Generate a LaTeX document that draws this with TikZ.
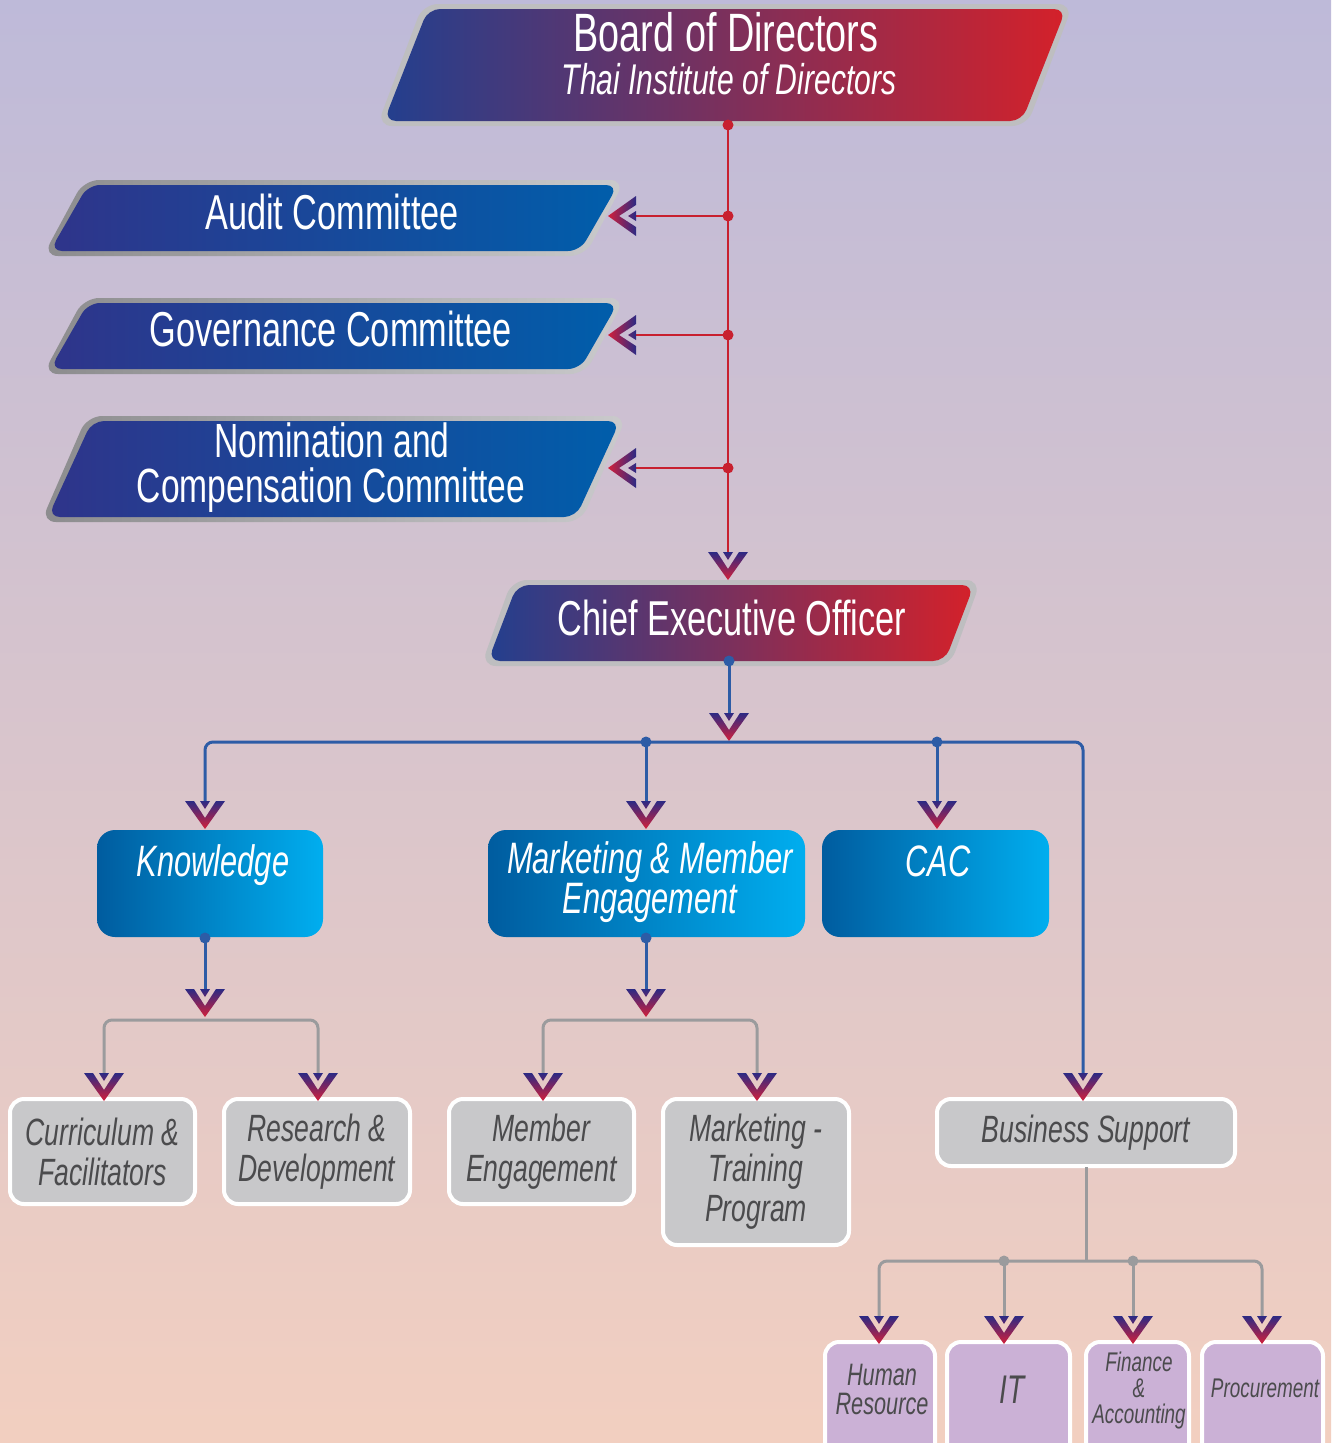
\documentclass[tikz,border=0pt]{standalone}
\usepackage{fontspec}
\setmainfont{Liberation Sans}[FakeStretch=0.7]
\definecolor{bgtop}{HTML}{BEBAD9}
\definecolor{bgbot}{HTML}{F2CFC0}
\definecolor{dblue}{HTML}{233F8E}
\definecolor{dmid}{HTML}{8B335C}
\definecolor{dred}{HTML}{D4212A}
\definecolor{cblueA}{HTML}{2F348A}
\definecolor{cblueB}{HTML}{005EAB}
\definecolor{bordA}{HTML}{8C8C8E}
\definecolor{bordB}{HTML}{CACACC}
\definecolor{bordL}{HTML}{BEBEC0}
\definecolor{bl1}{HTML}{005C9F}
\definecolor{bl2}{HTML}{00AEEF}
\definecolor{boxgray}{HTML}{C8C8CA}
\definecolor{boxpur}{HTML}{CBB1D6}
\definecolor{txtgray}{HTML}{4B4B4D}
\definecolor{lnred}{HTML}{C8202F}
\definecolor{lnblue}{HTML}{2D5CA6}
\definecolor{lngray}{HTML}{9B9B9D}
\definecolor{chA}{HTML}{2C2A84}
\definecolor{chB}{HTML}{D3203A}
\tikzset{
  redln/.style={draw=lnred, line width=2.5pt},
  blueln/.style={draw=lnblue, line width=3pt},
  grayln/.style={draw=lngray, line width=3pt},
  jdot/.style={circle, fill=#1, inner sep=0pt, minimum size=11pt},
  wtxt/.style={text=white, inner sep=0pt},
  btxt/.style={text=white, inner sep=0pt, anchor=base, font=\fontsize{44}{44}\selectfont\itshape},
  graybox/.style={fill=boxgray, draw=white, line width=4pt, rounded corners=14pt, inner sep=0pt, text=txtgray, align=center, font=\fontsize{38}{40}\selectfont\itshape},
  purbox/.style={fill=boxpur, draw=white, line width=4pt, rounded corners=14pt, inner sep=0pt},
  ptxt/.style={text=txtgray, inner sep=0pt, align=center},
  bluebox/.style={left color=bl1, right color=bl2, rounded corners=18pt, inner sep=0pt},
  chevd/.pic={\shade[top color=chA, bottom color=chB] (-20,-28) -- (-11,-28) -- (0,-11) -- (11,-28) -- (20,-28) -- (0,0) -- cycle (-5,-28) -- (5,-28) -- (0,-20) -- cycle;},
  chevl/.pic={\shade[left color=chB, right color=chA] (28,-20) -- (28,-11) -- (11,0) -- (28,11) -- (28,20) -- (0,0) -- cycle (28,-5) -- (28,5) -- (20,0) -- cycle;}
}
\begin{document}
\begin{tikzpicture}[x=1pt,y=-1pt]
\useasboundingbox (0,0) rectangle (1331,1443);
\clip (0,0) rectangle (1331,1443);
\shade[top color=bgtop,bottom color=bgbot] (0,0) rectangle (1331,1443);

% ---------- Board of Directors ----------
\fill[bordL, rounded corners=15pt] (377,126) -- (423,4) -- (1073,4) -- (1027,126) -- cycle;
\shade[left color=dblue, middle color=dmid, right color=dred, rounded corners=12pt] (384,121) -- (428,9) -- (1066,9) -- (1022,121) -- cycle;
\node[wtxt, anchor=base, font=\fontsize{54}{54}\selectfont] (boardt) at (726,51) {Board of Directors};
\node[wtxt, anchor=base, font=\fontsize{43}{43}\selectfont\itshape] (boardst) at (729,94) {Thai Institute of Directors};

% ---------- Committees ----------
\shade[left color=bordA, right color=bordB, rounded corners=15pt] (43,256) -- (84,180) -- (625,180) -- (585,256) -- cycle;
\shade[left color=cblueA, right color=cblueB, rounded corners=12pt] (50,251) -- (88,185) -- (618,185) -- (580,251) -- cycle;
\node[wtxt, anchor=base, font=\fontsize{49}{49}\selectfont] (audit) at (332,229) {Audit Committee};

\shade[left color=bordA, right color=bordB, rounded corners=15pt] (43,374) -- (84,298) -- (625,298) -- (585,374) -- cycle;
\shade[left color=cblueA, right color=cblueB, rounded corners=12pt] (50,369) -- (88,303) -- (618,303) -- (580,369) -- cycle;
\node[wtxt, anchor=base, font=\fontsize{49}{49}\selectfont] (gov) at (331,346) {Governance Committee};

\shade[left color=bordA, right color=bordB, rounded corners=15pt] (41,522) -- (87,416) -- (627,416) -- (581,522) -- cycle;
\shade[left color=cblueA, right color=cblueB, rounded corners=12pt] (48,517) -- (92,421) -- (620,421) -- (576,517) -- cycle;
\node[wtxt, anchor=base, font=\fontsize{48}{48}\selectfont] (nomA) at (332,457) {Nomination and};
\node[wtxt, anchor=base, font=\fontsize{48}{48}\selectfont] (nomB) at (331,502) {Compensation Committee};

% ---------- CEO ----------
\fill[bordL, rounded corners=15pt] (481,666) -- (512,580) -- (981,580) -- (950,666) -- cycle;
\shade[left color=dblue, middle color=dmid, right color=dred, rounded corners=12pt] (488,661) -- (517,585) -- (974,585) -- (945,661) -- cycle;
\node[wtxt, anchor=base, font=\fontsize{49}{49}\selectfont] (ceot) at (732,635) {Chief Executive Officer};

% ---------- Blue boxes ----------
\node[bluebox, minimum width=226pt, minimum height=107pt] (know) at (210,883.5) {};
\node[btxt] (knowt) at (213,876) {Knowledge};
\node[bluebox, minimum width=317pt, minimum height=107pt] (mkt) at (646.5,883.5) {};
\node[btxt] (mktA) at (650,873) {Marketing \& Member};
\node[btxt] (mktB) at (650,913) {Engagement};
\node[bluebox, minimum width=227pt, minimum height=107pt] (cac) at (935.5,883.5) {};
\node[btxt] (cact) at (938,876) {CAC};

% ---------- Gray boxes ----------
\node[graybox, minimum width=185pt, minimum height=105pt] (curr) at (102.5,1151.5) {Curriculum \&\\Facilitators};
\node[graybox, minimum width=186pt, minimum height=105pt] (resd) at (317,1151.5) {Research \&\\Development};
\node[graybox, minimum width=185pt, minimum height=105pt] (memb) at (541.5,1151.5) {Member\\Engagement};
\node[graybox, minimum width=186pt, minimum height=146pt] (mtp) at (756,1172) {Marketing -\\Training\\Program};
\node[graybox, minimum width=298pt, minimum height=67pt] (bsup) at (1086,1132.5) {Business Support};

% ---------- Purple boxes ----------
\node[purbox, minimum width=110pt, minimum height=130pt] (hr) at (880,1407) {};
\node[purbox, minimum width=123pt, minimum height=130pt] (it) at (1008.5,1407) {};
\node[purbox, minimum width=103pt, minimum height=130pt] (fin) at (1137.5,1407) {};
\node[purbox, minimum width=121pt, minimum height=130pt] (proc) at (1262.5,1407) {};
\node[ptxt, font=\fontsize{31}{29}\selectfont\itshape] (hrt) at (882,1389) {Human\\Resource};
\node[ptxt, font=\fontsize{40}{40}\selectfont\itshape] (itt) at (1012,1390) {IT};
\node[ptxt, font=\fontsize{27}{26}\selectfont\itshape] (fint) at (1139,1391) {Finance\\\&\\Accounting};
\node[ptxt, font=\fontsize{27}{27}\selectfont\itshape] (proct) at (1265,1388) {Procurement};

% ---------- Connector coordinates ----------
\coordinate (ceoin) at (728,552);
\coordinate (a1) at (636,216);
\coordinate (a2) at (636,335);
\coordinate (a3) at (636,468);
\coordinate (hubin) at (729,713);
\coordinate (hub) at (729,742);
\coordinate (kin) at (205,802);
\coordinate (min) at (646,802);
\coordinate (cin) at (937,802);
\coordinate (bsin) at (1083,1075);
\coordinate (kdn) at (205,990);
\coordinate (kj) at (205,1020);
\coordinate (currin) at (104,1075);
\coordinate (resin) at (318,1075);
\coordinate (mdn) at (646,990);
\coordinate (mj) at (646,1020);
\coordinate (membin) at (543,1075);
\coordinate (mtpin) at (757,1075);
\coordinate (bsout) at (1086,1167);
\coordinate (bsj) at (1086,1261);
\coordinate (hrin) at (879,1318);
\coordinate (itin) at (1004,1318);
\coordinate (finin) at (1133,1318);
\coordinate (procin) at (1262,1318);

% ---------- Red connectors ----------
\node[jdot=lnred] (b0) at (728,125) {};
\node[jdot=lnred] (j1) at (728,216) {};
\node[jdot=lnred] (j2) at (728,335) {};
\node[jdot=lnred] (j3) at (728,468) {};
\draw[redln] (b0.center) -- (ceoin);
\draw[redln] (j1.center) -- (a1);
\draw[redln] (j2.center) -- (a2);
\draw[redln] (j3.center) -- (a3);
\pic at (608,216) {chevl};
\pic at (608,335) {chevl};
\pic at (608,468) {chevl};
\pic at (728,580) {chevd};

% ---------- Blue connectors ----------
\node[jdot=lnblue] (c0) at (729,661) {};
\draw[blueln] (c0.center) -- (hubin);
\pic at (729,741) {chevd};
\draw[blueln, rounded corners=8pt] (kin) |- (hub) -| (bsin);
\node[jdot=lnblue] (d1) at (646,742) {};
\node[jdot=lnblue] (d2) at (937,742) {};
\draw[blueln] (d1.center) -- (min);
\draw[blueln] (d2.center) -- (cin);
\pic at (205,829) {chevd};
\pic at (646,829) {chevd};
\pic at (937,829) {chevd};
\pic at (1083,1101) {chevd};

\node[jdot=lnblue] (kd) at (205,938) {};
\draw[blueln] (kd.center) -- (kdn);
\node[jdot=lnblue] (md) at (646,938) {};
\draw[blueln] (md.center) -- (mdn);

% ---------- Gray connectors ----------
\draw[grayln, rounded corners=8pt] (currin) |- (kj) -| (resin);
\draw[grayln, rounded corners=8pt] (membin) |- (mj) -| (mtpin);
\pic at (205,1017) {chevd};
\pic at (646,1017) {chevd};
\pic at (104,1101) {chevd};
\pic at (318,1101) {chevd};
\pic at (543,1101) {chevd};
\pic at (757,1101) {chevd};

\draw[grayln] (bsout) -- (bsj);
\draw[grayln, rounded corners=8pt] (hrin) |- (bsj) -| (procin);
\node[jdot=lngray] (g1) at (1004,1261) {};
\node[jdot=lngray] (g2) at (1133,1261) {};
\draw[grayln] (g1.center) -- (itin);
\draw[grayln] (g2.center) -- (finin);
\pic at (879,1344) {chevd};
\pic at (1004,1344) {chevd};
\pic at (1133,1344) {chevd};
\pic at (1262,1344) {chevd};
\end{tikzpicture}
\end{document}
